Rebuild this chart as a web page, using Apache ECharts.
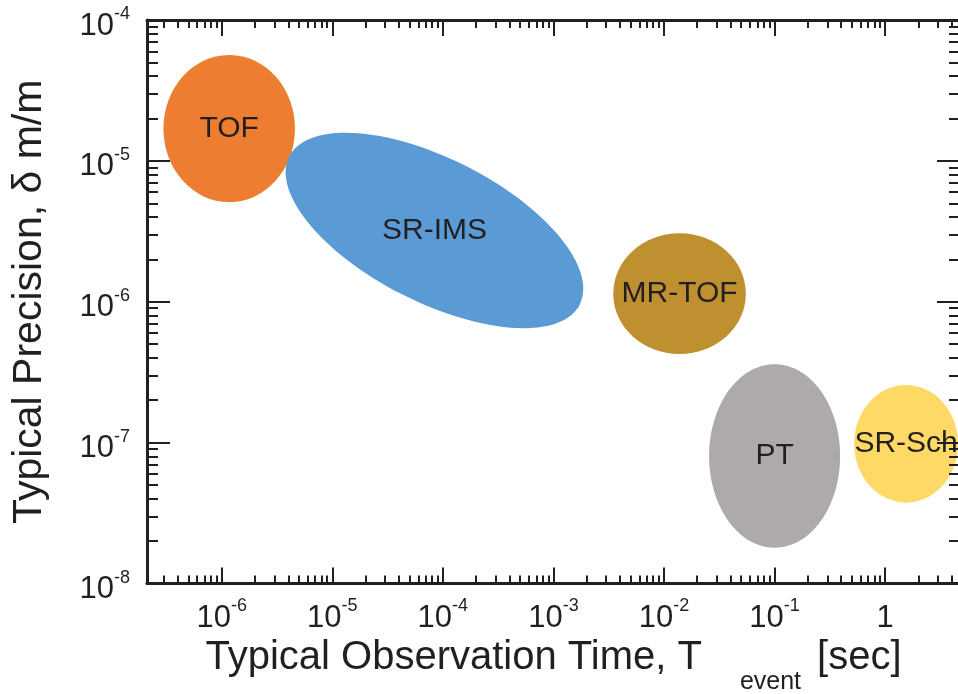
<!DOCTYPE html>
<html>
<head>
<meta charset="utf-8">
<script src="https://cdn.jsdelivr.net/npm/echarts@6/dist/echarts.min.js"></script>
<style>
  html, body { margin: 0; padding: 0; background: #ffffff; }
  #chart { width: 958px; height: 694px; }
</style>
</head>
<body>
<div id="chart"></div>
<script>
// Mass-measurement techniques: typical observation time vs. typical precision
const techniques = ['TOF', 'SR-IMS', 'MR-TOF', 'PT', 'SR-Sch'];
const timeLow   = [2.97e-7, 3.79e-6, 3.48e-3, 2.56e-2, 0.525];   // seconds
const timeHigh  = [4.6e-6, 1.87e-3, 5.5e-2, 0.392, 4.57];
const precLow   = [5.08e-6, 6.49e-7, 4.26e-7, 1.795e-8, 3.75e-8]; // delta m / m
const precHigh  = [5.65e-5, 1.585e-5, 3.06e-6, 3.6e-7, 2.56e-7];
const tiltDeg   = [0, 27, 0, 0, 0];
const fills     = ['#ED7D31', '#5B9BD5', '#BF9030', '#AEAAAA', '#FFD966'];

const timeTicks = [1e-6, 1e-5, 1e-4, 1e-3, 1e-2, 1e-1, 1];
const precTicks = [1e-8, 1e-7, 1e-6, 1e-5, 1e-4];
const timeRange = [2.11e-7, 4.76];
const precRange = [1e-8, 1e-4];

const INK = '#231F20';
const FONT = '"Liberation Sans", Arial, Helvetica, sans-serif';
const lg = Math.log10;

// axes work in decades (log10 space)
const xMin = lg(timeRange[0]), xMax = lg(timeRange[1]);
const yMin = lg(precRange[0]), yMax = lg(precRange[1]);

function minorDecades(lo, hi) {
  const out = [];
  for (let n = Math.floor(lo) - 1; n <= Math.ceil(hi); n++) {
    for (let k = 2; k <= 9; k++) {
      const v = n + lg(k);
      if (v > lo && v < hi) out.push(v);
    }
  }
  return out;
}
const xMajor = timeTicks.map(lg);
const yMajor = precTicks.map(lg);
const xMinor = minorDecades(xMin, xMax);
const yMinor = minorDecades(yMin, yMax);

function powerLabel(v) {
  const e = Math.round(v);
  return e === 0 ? '{b|1}' : '{b|10}{s|' + e + '}';
}
const labelRich = {
  b: { fontSize: 31, fontFamily: FONT, color: INK, verticalAlign: 'bottom', lineHeight: 36 },
  s: { fontSize: 18, fontFamily: FONT, color: INK, verticalAlign: 'top', lineHeight: 36 }
};

function axisPair(kind, position, major, minor, lo, hi, majLen, minLen, withLabels, lineShown, nameOpts) {
  const base = { type: 'value', min: lo, max: hi, position: position, z: 5,
                 splitLine: { show: false }, scale: true };
  const main = Object.assign({}, base, {
    axisLine: { show: lineShown, onZero: false, lineStyle: { color: INK, width: 3 } },
    axisTick: { show: true, inside: true, length: majLen, customValues: major,
                lineStyle: { color: INK, width: 2 } },
    axisLabel: withLabels
      ? { show: true, customValues: major, margin: kind === 'x' ? 14 : 17,
          padding: kind === 'x' ? 0 : [7, 0, 0, 0],
          formatter: powerLabel, rich: labelRich }
      : { show: false }
  }, nameOpts || {});
  const sub = Object.assign({}, base, {
    axisLine: { show: false, onZero: false },
    axisTick: { show: true, inside: true, length: minLen, customValues: minor,
                lineStyle: { color: INK, width: 2 } },
    axisLabel: { show: false }
  });
  return [main, sub];
}

const xName = {
  name: '{t|Typical Observation Time, T}{sub|event}{t|[sec]}',
  nameLocation: 'middle',
  nameGap: 47,
  nameTextStyle: {
    rich: {
      t: { fontSize: 40, fontFamily: FONT, color: INK, verticalAlign: 'top', lineHeight: 44 },
      sub: { fontSize: 25, fontFamily: FONT, color: INK, verticalAlign: 'bottom',
             lineHeight: 56, padding: [0, 16, 0, 38] }
    }
  }
};
const yName = {
  name: 'Typical Precision, \u03B4 m/m',
  nameLocation: 'middle',
  nameGap: 97,
  nameTextStyle: { fontSize: 41, fontFamily: FONT, color: INK }
};

const xAxes = [].concat(
  axisPair('x', 'bottom', xMajor, xMinor, xMin, xMax, 16, 8, true, true, xName),
  axisPair('x', 'top', xMajor, xMinor, xMin, xMax, 16, 8, false, true)
);
const yAxes = [].concat(
  axisPair('y', 'left', yMajor, yMinor, yMin, yMax, 23, 11, true, true, yName),
  axisPair('y', 'right', yMajor, yMinor, yMin, yMax, 23, 11, false, false)
);

const regions = techniques.map((name, i) => ({
  name: name,
  value: [lg(timeLow[i]), lg(timeHigh[i]), lg(precLow[i]), lg(precHigh[i]), tiltDeg[i]]
}));

function renderRegion(params, api) {
  const i = params.dataIndex;
  const p0 = api.coord([api.value(0), api.value(2)]);
  const p1 = api.coord([api.value(1), api.value(3)]);
  const cx = (p0[0] + p1[0]) / 2, cy = (p0[1] + p1[1]) / 2;
  const W = Math.abs(p1[0] - p0[0]) / 2, H = Math.abs(p1[1] - p0[1]) / 2;
  const t = api.value(4) * Math.PI / 180;
  let rx = W, ry = H;
  if (t !== 0) {
    // semi-axes of a tilted ellipse with the given bounding half-extents
    const s = W * W + H * H, d = (W * W - H * H) / Math.cos(2 * t);
    rx = Math.sqrt((s + d) / 2);
    ry = Math.sqrt((s - d) / 2);
  }
  return {
    type: 'group',
    children: [
      { type: 'ellipse', x: cx, y: cy, rotation: -t,
        shape: { cx: 0, cy: 0, rx: rx, ry: ry },
        style: { fill: fills[i] } },
      { type: 'text', x: cx, y: cy,
        style: { text: techniques[i], x: 0, y: 0, align: 'center', verticalAlign: 'middle',
                 fontSize: 30, fontFamily: FONT, fill: INK } }
    ]
  };
}

const chart = echarts.init(document.getElementById('chart'), null, { renderer: 'canvas' });
chart.setOption({
  backgroundColor: '#ffffff',
  animation: false,
  grid: { left: 147, right: -2, top: 20, bottom: 110.5, containLabel: false,
          outerBoundsMode: 'none' },
  xAxis: xAxes,
  yAxis: yAxes,
  series: [{
    type: 'custom',
    xAxisIndex: 0,
    yAxisIndex: 0,
    renderItem: renderRegion,
    encode: { x: [0, 1], y: [2, 3] },
    data: regions,
    z: 2
  }]
});
</script>
</body>
</html>
